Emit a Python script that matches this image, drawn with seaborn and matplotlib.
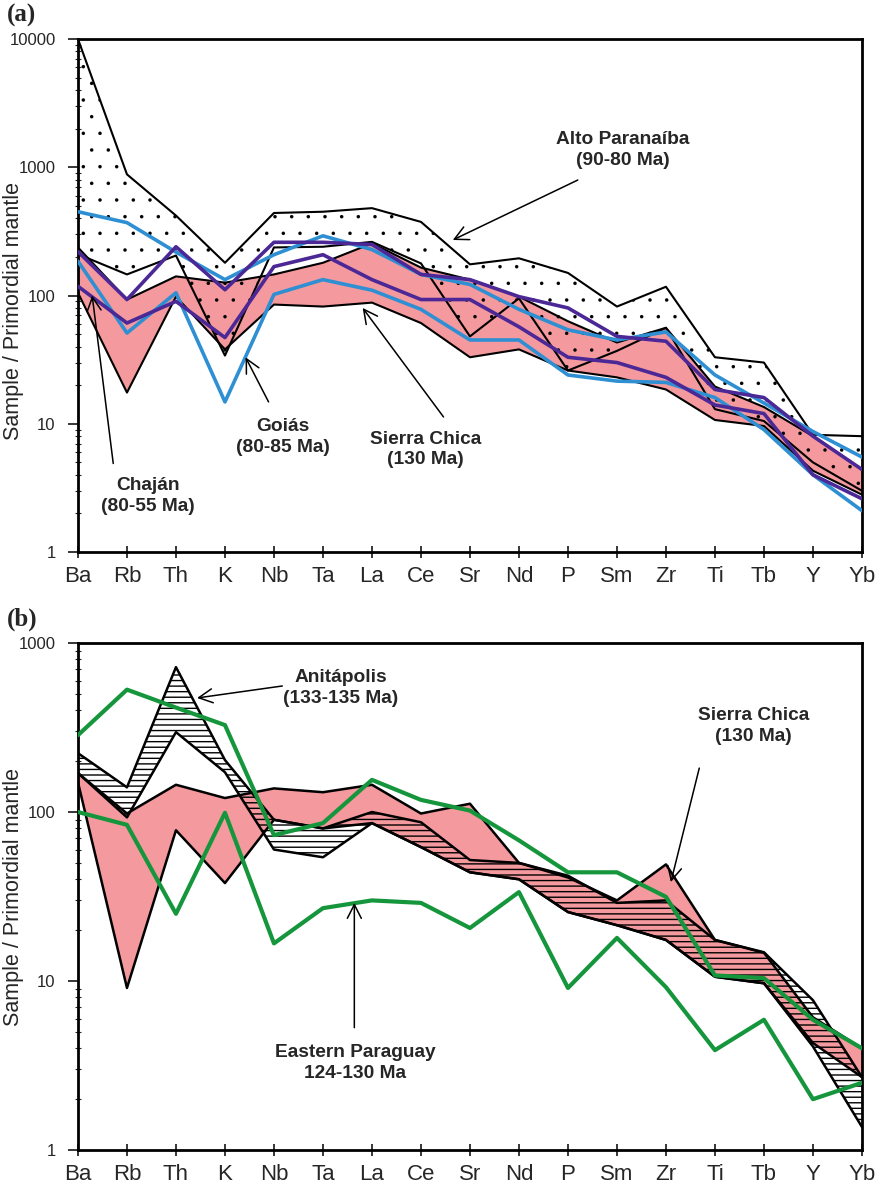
import numpy as np
import pandas as pd
import matplotlib
matplotlib.use("Agg")
import matplotlib.pyplot as plt
import seaborn as sns
from matplotlib.ticker import LogLocator, NullFormatter

# ---------------------------------------------------------------- data
elements = ['Ba', 'Rb', 'Th', 'K', 'Nb', 'Ta', 'La', 'Ce', 'Sr', 'Nd',
            'P', 'Sm', 'Zr', 'Ti', 'Tb', 'Y', 'Yb']

# (a) Alto Paranaiba field (dotted)
alto_hi = [10000, 880, 420, 180, 440, 450, 480, 375, 175, 195, 150, 82, 117, 33, 30, 8.2, 8.0]
alto_lo = [210, 146, 205, 34, 237, 240, 262, 178, 48, 95, 26, 37, 56, 13, 10.5, 5.0, 3.0]
# (a) Sierra Chica field (pink)
sc_hi_a = [237, 93, 141, 126, 146, 180, 255, 165, 133, 98, 63, 43, 56, 19.5, 13.5, 8.0, 4.4]
sc_lo_a = [105, 17.5, 98, 38, 85, 82, 88, 61, 33, 38, 26, 23, 18.5, 10.7, 9.6, 4.3, 2.8]
# (a) Goias samples (blue) and Chajan samples (purple)
goias_1 = [450, 370, 218, 133, 208, 292, 228, 146, 122, 78, 54, 45, 52, 24, 14.5, 8.7, 5.5]
goias_2 = [185, 51, 105, 14.8, 102, 133, 110, 78, 45, 45, 24, 21.5, 21, 16, 9.0, 4.0, 2.1]
chajan_1 = [220, 93, 240, 111, 260, 260, 250, 146, 133, 98, 80, 48, 44, 18.5, 16, 8.0, 4.4]
chajan_2 = [118, 61, 90, 47, 168, 208, 133, 93, 93, 57, 33, 30, 23, 14, 12, 4.0, 2.6]

# (b) Sierra Chica field (pink)
sc_hi_b = [170, 98, 145, 121, 138, 131, 145, 98, 112, 50, 41, 30, 49, 17.5, 14.7, 6.1, 4.0]
sc_lo_b = [150, 9.1, 78, 38, 90, 80, 86, 62, 44, 40, 25.6, 21.4, 17.5, 10.6, 9.7, 4.3, 2.7]
# (b) Anitapolis field (hatched)
anit_hi = [223, 140, 720, 203, 90, 80, 100, 87, 52, 50, 42, 29, 30, 17.5, 14.8, 7.7, 2.7]
anit_lo = [170, 93, 297, 172, 60, 54, 86, 62, 44, 40, 25.6, 21.4, 17.5, 10.6, 9.7, 4.1, 1.37]
# (b) Eastern Paraguay samples (green)
epar_1 = [285, 530, 415, 327, 73, 86, 155, 118, 102, 68, 44, 44, 31.5, 10.8, 10.4, 5.9, 4.0]
epar_2 = [100, 84, 25, 99, 16.7, 27, 30, 29, 20.6, 33.6, 9.1, 18, 9.2, 3.9, 5.9, 2.0, 2.5]

# ---------------------------------------------------------------- style
sns.set_theme(style="ticks")
plt.rcParams['font.family'] = ['Liberation Sans', 'DejaVu Sans']
plt.rcParams['hatch.color'] = 'black'
plt.rcParams['hatch.linewidth'] = 1.0

PINK = '#f4999d'
BLUE = '#2f8fd3'
PURPLE = '#4b2896'
GREEN = '#16963c'

pos = np.arange(len(elements))

fig = plt.figure(figsize=(8.8, 11.93), dpi=100)
ax_a = fig.add_axes([0.0886, 0.5373, 0.8909, 0.4300])
ax_b = fig.add_axes([0.0886, 0.0360, 0.8909, 0.4250])


def long_form(series):
    frames = [pd.DataFrame({'pos': pos, 'value': v, 'series': k})
              for k, v in series.items()]
    return pd.concat(frames, ignore_index=True)


def draw_lines(ax, series, palette, lw, z):
    sns.lineplot(data=long_form(series), x='pos', y='value', hue='series',
                 palette=palette, estimator=None, sort=False, legend=False,
                 linewidth=lw, ax=ax, zorder=z)


def style_axis(ax, top):
    ax.set_yscale('log')
    ax.set_xlim(0, len(elements) - 1)
    ax.set_ylim(1, top)
    majors = [10 ** k for k in range(int(np.log10(top)) + 1)]
    ax.set_yticks(majors)
    ax.set_yticklabels([str(m) for m in majors], fontsize=12)
    ax.yaxis.set_minor_locator(LogLocator(base=10, subs=np.arange(2, 10)))
    ax.yaxis.set_minor_formatter(NullFormatter())
    ax.set_xticks(pos)
    ax.set_xticklabels(elements, fontsize=16)
    ax.tick_params(axis='x', direction='inout', length=8, width=1.3, pad=6)
    ax.tick_params(axis='y', which='major', direction='out', length=7, width=1.3, pad=9)
    ax.tick_params(axis='y', which='minor', direction='inout', length=4, width=0.8)
    for sp in ax.spines.values():
        sp.set_linewidth(2.0)
        sp.set_color('black')
    ax.set_xlabel('')
    ax.set_ylabel('Sample / Primordial mantle', fontsize=15.5)


def arrow(ax, start, tip):
    ax.annotate('', xy=tip, xytext=start,
                arrowprops=dict(arrowstyle='->,head_length=0.55,head_width=0.28',
                                color='black', lw=1.1, shrinkA=0, shrinkB=0,
                                mutation_scale=18), zorder=6)


def hatched_band(ax, lo, hi, hatch, hatch_lw):
    with plt.rc_context({'hatch.linewidth': hatch_lw}):
        band = ax.fill_between(pos, lo, hi, facecolor='none', edgecolor='black',
                               linewidth=0, hatch=hatch, zorder=2)
    if hasattr(band, 'set_hatch_linewidth'):
        band.set_hatch_linewidth(hatch_lw)
    return band


LABEL = dict(fontsize=13.8, fontweight='bold', ha='center', va='center',
             linespacing=1.3, zorder=7)

# ---------------------------------------------------------------- panel (a)
ax = ax_a
ax.set_yscale('log')
ax.fill_between(pos, sc_lo_a, sc_hi_a, facecolor=PINK, edgecolor='none', zorder=1)
hatched_band(ax, alto_lo, alto_hi, '.', 0.1)
draw_lines(ax, {'alto_hi': alto_hi, 'alto_lo': alto_lo,
                'sc_hi': sc_hi_a, 'sc_lo': sc_lo_a},
           {'alto_hi': 'black', 'alto_lo': 'black',
            'sc_hi': 'black', 'sc_lo': 'black'}, 1.5, 3)
draw_lines(ax, {'g1': goias_1, 'g2': goias_2},
           {'g1': BLUE, 'g2': BLUE}, 2.6, 4)
draw_lines(ax, {'c1': chajan_1, 'c2': chajan_2},
           {'c1': PURPLE, 'c2': PURPLE}, 2.6, 5)
style_axis(ax, 10000)
ax.yaxis.set_label_coords(-0.069, 0.47)

ax.text(11.12, 1362, 'Alto Paranaíba\n(90-80 Ma)', **LABEL)
arrow(ax, (10.2, 795), (7.65, 271))
ax.text(4.19, 7.9, 'Goiás\n(80-85 Ma)', **LABEL)
arrow(ax, (3.89, 14.8), (3.42, 33))
ax.text(7.10, 6.3, 'Sierra Chica\n(130 Ma)', **LABEL)
arrow(ax, (7.46, 11.3), (5.81, 80))
ax.text(1.43, 2.75, 'Chaján\n(80-55 Ma)', **LABEL)
arrow(ax, (0.72, 4.9), (0.29, 100))

# ---------------------------------------------------------------- panel (b)
ax = ax_b
ax.set_yscale('log')
ax.fill_between(pos, sc_lo_b, sc_hi_b, facecolor=PINK, edgecolor='none', zorder=1)
hatched_band(ax, anit_lo, anit_hi, '---', 1.0)
draw_lines(ax, {'an_hi': anit_hi, 'an_lo': anit_lo,
                'sc_hi': sc_hi_b, 'sc_lo': sc_lo_b},
           {'an_hi': 'black', 'an_lo': 'black',
            'sc_hi': 'black', 'sc_lo': 'black'}, 1.8, 3)
draw_lines(ax, {'e1': epar_1, 'e2': epar_2},
           {'e1': GREEN, 'e2': GREEN}, 3.0, 4)
style_axis(ax, 1000)
ax.yaxis.set_label_coords(-0.069, 0.50)

ax.text(5.36, 545, 'Anitápolis\n(133-135 Ma)', **LABEL)
arrow(ax, (4.17, 557), (2.43, 473))
ax.text(13.78, 323, 'Sierra Chica\n(130 Ma)', **LABEL)
arrow(ax, (12.68, 182), (12.1, 38.5))
ax.text(5.66, 3.27, 'Eastern Paraguay\n124-130 Ma', **LABEL)
arrow(ax, (5.64, 5.3), (5.64, 29))

# panel letters
fig.text(0.008, 0.987, '(a)', fontsize=18, fontweight='bold',
         family=['Liberation Serif', 'DejaVu Serif'], ha='left', va='center')
fig.text(0.008, 0.481, '(b)', fontsize=18, fontweight='bold',
         family=['Liberation Serif', 'DejaVu Serif'], ha='left', va='center')

fig.savefig('out.png', dpi=100)
